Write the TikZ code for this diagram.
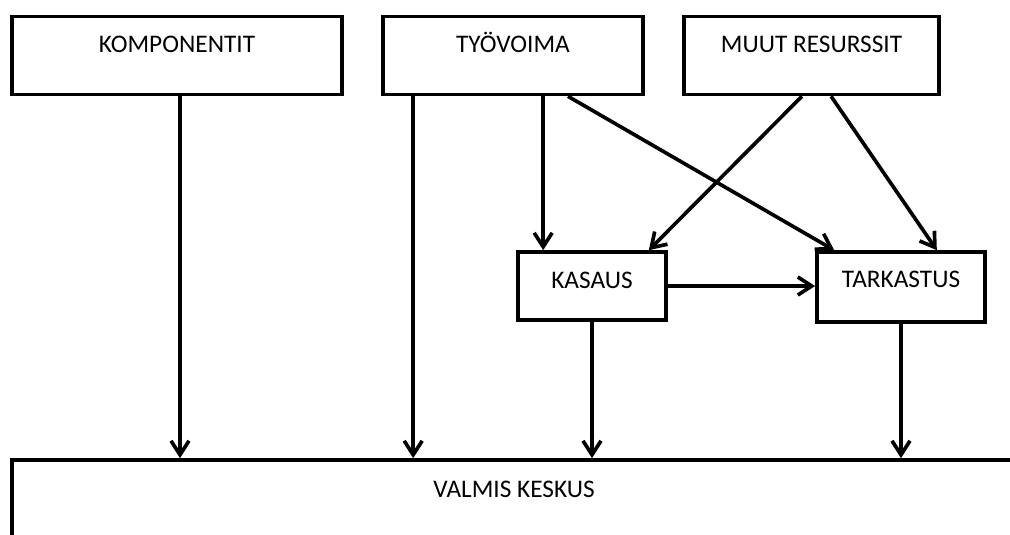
\documentclass[tikz,border=0pt]{standalone}
\usepackage{fontspec}
\setmainfont{Carlito}
\usetikzlibrary{arrows.meta}

\tikzset{
  box/.style={draw, line width=2.6pt, inner sep=0pt, text height=0.41cm,
    font=\fontsize{18}{21}\selectfont},
  flow/.style={line width=2.6pt, -{Straight Barb[length=0.35cm, width=0.45cm]}},
}

\begin{document}
\begin{tikzpicture}
    \path[use as bounding box, clip] (0,0) rectangle (25.25,-13.35);
    % resources on top
    \node[box, minimum width=8.25cm, minimum height=1.95cm, text depth=0.55cm] (komp) at (4.425,-1.3875) {KOMPONENTIT};
    \node[box, minimum width=6.5cm, minimum height=1.95cm, text depth=0.55cm] (tyo) at (12.825,-1.3875) {TYÖVOIMA};
    \node[box, minimum width=6.375cm, minimum height=1.95cm, text depth=0.55cm] (muut) at (20.2875,-1.3875) {MUUT RESURSSIT};
    % work steps
    \node[box, minimum width=3.7cm, minimum height=1.7cm, text depth=0.3cm] (kas) at (14.8,-7.15) {KASAUS};
    \node[box, minimum width=4.2cm, minimum height=1.75cm, text depth=0.375cm] (tark) at (22.525,-7.175) {TARKASTUS};
    % result, runs off the page
    \node[box, minimum width=25.1cm, minimum height=3.5cm, text depth=2.05cm] (valmis) at (12.85,-13.25) {VALMIS KESKUS};

    \coordinate (k1) at ([xshift=0.075cm]komp.south);
    \coordinate (t1) at ([xshift=0.8cm]tyo.south west);
    \coordinate (t2) at ([xshift=1.375cm]tyo.south);
    \coordinate (m1) at ([xshift=-0.24cm]muut.south);
    \coordinate (m2) at ([xshift=0.49cm]muut.south);
    \coordinate (kin1) at ([xshift=0.675cm]kas.north west);
    \coordinate (kin2) at ([xshift=-0.475cm]kas.north east);
    \coordinate (tin1) at ([xshift=0.475cm]tark.north west);
    \coordinate (tin2) at ([xshift=-1.25cm]tark.north east);

    \draw[flow] (k1) -- (k1 |- valmis.north);
    \draw[flow] (t1) -- (t1 |- valmis.north);
    \draw[flow] (tyo.south -| kin1) -- (kin1);
    \draw[flow] (t2) -- (tin1);
    \draw[flow] (m1) -- (kin2);
    \draw[flow] (m2) -- (tin2);
    \draw[flow] (kas.east) -- (kas.east -| tark.west);
    \draw[flow] (kas.south) -- (kas.south |- valmis.north);
    \draw[flow] (tark.south) -- (tark.south |- valmis.north);
\end{tikzpicture}
\end{document}
